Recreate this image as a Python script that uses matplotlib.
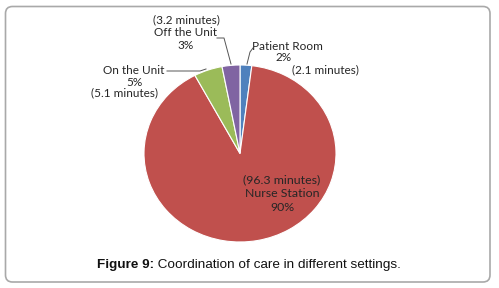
import matplotlib
matplotlib.use("Agg")
import matplotlib.pyplot as plt
from matplotlib.patches import FancyBboxPatch

# Data
categories = ["Patient Room", "Nurse Station", "On the Unit", "Off the Unit"]
minutes = [2.1, 96.3, 5.1, 3.2]
percent_labels = ["2%", "90%", "5%", "3%"]
minute_labels = ["(2.1 minutes)", "(96.3 minutes)", "(5.1 minutes)", "(3.2 minutes)"]
colors = ["#4F81BD", "#C0504D", "#9BBB59", "#8064A2"]
caption_bold = "Figure 9:"
caption_text = " Coordination of care in different settings."

W, H = 499, 288
fig = plt.figure(figsize=(W / 100, H / 100), dpi=100)

# background axes in pixel coordinates (y down)
bg = fig.add_axes([0, 0, 1, 1])
bg.set_xlim(0, W)
bg.set_ylim(H, 0)
bg.axis("off")
border = FancyBboxPatch((5.5, 6.5), 484.5, 275.5,
                        boxstyle="round,pad=0,rounding_size=7",
                        linewidth=1.2, edgecolor="#A9A9A9", facecolor="white")
bg.add_patch(border)

# pie axes (ellipse: 192 x 177 px)
cx, cy, rx, ry = 240, 153.5, 96, 88.5
pax = fig.add_axes([(cx - rx) / W, (H - cy - ry) / H, 2 * rx / W, 2 * ry / H])
pax.pie(minutes, colors=colors, startangle=90, counterclock=False,
        wedgeprops=dict(edgecolor="white", linewidth=0.8))
pax.set_aspect("auto")
pax.set_xlim(-1, 1)
pax.set_ylim(-1, 1)

# overlay axes for labels
ov = fig.add_axes([0, 0, 1, 1])
ov.set_xlim(0, W)
ov.set_ylim(H, 0)
ov.axis("off")
ov.patch.set_alpha(0)

fam = ["Lato", "DejaVu Sans"]
fs = 8.5
tc = "#262626"
lc = "#555555"

# Patient Room
ov.text(252, 46.5, categories[0], fontsize=fs, family=fam, color=tc, ha="left", va="center")
ov.text(284, 57.5, percent_labels[0], fontsize=fs, family=fam, color=tc, ha="center", va="center")
ov.text(325, 70, minute_labels[0], fontsize=fs, family=fam, color=tc, ha="center", va="center")
ov.plot([247, 250, 253], [64, 52, 48], color=lc, lw=0.7)

# Off the Unit
ov.text(186, 20, minute_labels[3], fontsize=fs, family=fam, color=tc, ha="center", va="center")
ov.text(186, 33, categories[3], fontsize=fs, family=fam, color=tc, ha="center", va="center")
ov.text(186, 45.5, percent_labels[3], fontsize=fs, family=fam, color=tc, ha="center", va="center")
ov.plot([217, 224, 231], [38, 38, 64], color=lc, lw=0.7)

# On the Unit
ov.text(134, 70, categories[2], fontsize=fs, family=fam, color=tc, ha="center", va="center")
ov.text(134, 83, percent_labels[2], fontsize=fs, family=fam, color=tc, ha="center", va="center")
ov.text(125, 93, minute_labels[2], fontsize=fs, family=fam, color=tc, ha="center", va="center")
ov.plot([167, 200, 206], [71, 71, 69], color=lc, lw=0.7)

# Nurse Station
ov.text(282, 180, minute_labels[1], fontsize=fs + 0.4, family=fam, color=tc, ha="center", va="center")
ov.text(282, 193.5, categories[1], fontsize=fs + 0.4, family=fam, color=tc, ha="center", va="center")
ov.text(282, 207.5, percent_labels[1], fontsize=fs + 0.4, family=fam, color=tc, ha="center", va="center")

# Caption
cap_fs = 9.7
t1 = ov.text(97, 265, caption_bold, fontsize=cap_fs, family="Liberation Sans",
             fontweight="bold", color="#111111", ha="left", va="center")
fig.canvas.draw()
bb = t1.get_window_extent()
ov.text(bb.x1, H - 265, caption_text, fontsize=cap_fs, family="Liberation Sans",
        color="#111111", ha="left", va="center", transform=None)

fig.savefig("out.png", dpi=100)
